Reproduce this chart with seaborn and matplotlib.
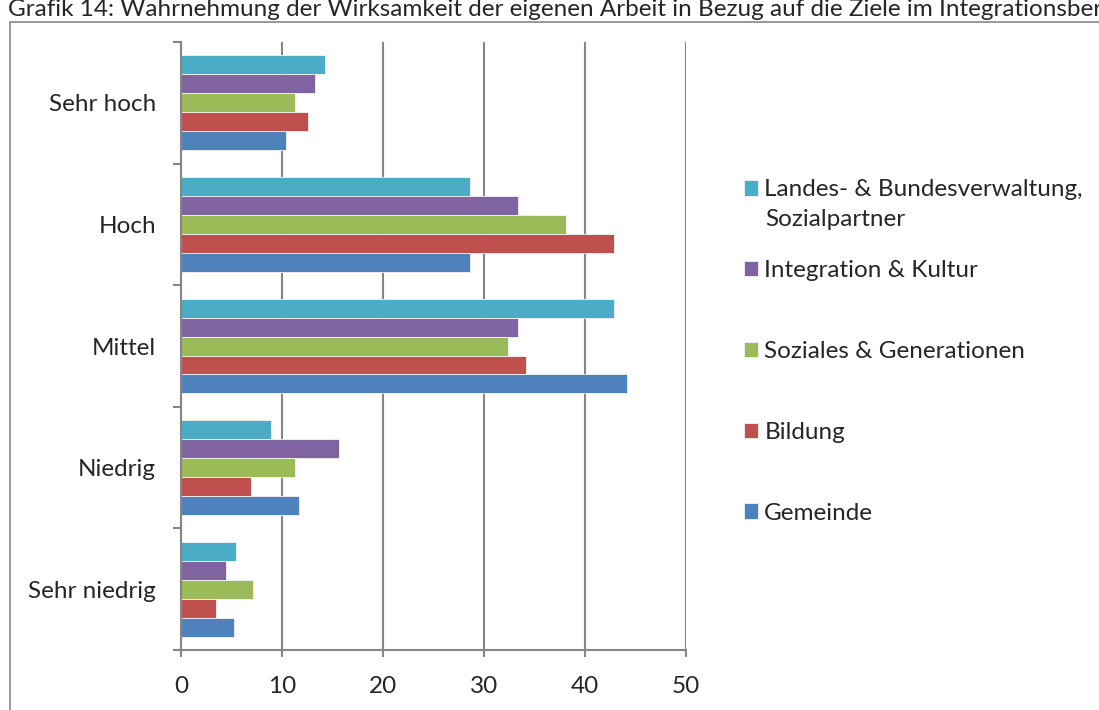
# plot.py
import pandas as pd
import seaborn as sns
import matplotlib.pyplot as plt
from matplotlib.patches import Rectangle
from matplotlib.ticker import FixedLocator

# data (percent)
levels = ['Sehr hoch', 'Hoch', 'Mittel', 'Niedrig', 'Sehr niedrig']
groups = ['Landes- & Bundesverwaltung,', 'Integration & Kultur',
          'Soziales & Generationen', 'Bildung', 'Gemeinde']
landes = [14.3, 28.6, 42.9, 8.9, 5.4]
integration = [13.3, 33.4, 33.4, 15.6, 4.5]
soziales = [11.3, 38.1, 32.4, 11.3, 7.1]
bildung = [12.6, 42.9, 34.2, 6.9, 3.5]
gemeinde = [10.4, 28.6, 44.2, 11.7, 5.2]
colors = ['#4BACC6', '#8064A2', '#9BBB59', '#C0504D', '#4F81BD']

rows = []
for g, vals in zip(groups, [landes, integration, soziales, bildung, gemeinde]):
    for lvl, v in zip(levels, vals):
        rows.append([lvl, g, v])
df = pd.DataFrame(rows, columns=['Stufe', 'Bereich', 'Wert'])

sns.set_style('white')
plt.rcParams['font.family'] = ['Lato', 'DejaVu Sans']
fs = 17.5

fig = plt.figure(figsize=(10.99, 7.10), dpi=100)
ax = fig.add_axes([0.1647, 0.0845, 0.4595, 0.8563])

sns.barplot(data=df, y='Stufe', x='Wert', hue='Bereich', order=levels,
            hue_order=groups, palette=colors, saturation=1, orient='h',
            width=0.78, edgecolor='#f4f4f4', linewidth=0.6, ax=ax)

grey = '#868686'
ax.set_xlim(0, 50)
ax.set_ylim(len(levels) - 0.5, -0.5)
ax.set_xticks([0, 10, 20, 30, 40, 50])
ax.xaxis.grid(True, color=grey, linewidth=1.5)
ax.set_axisbelow(True)
ax.set_xlabel('')
ax.set_ylabel('')
for side in ['top', 'right']:
    ax.spines[side].set_visible(False)
for side in ['left', 'bottom']:
    ax.spines[side].set_color(grey)
    ax.spines[side].set_linewidth(1.5)

ax.tick_params(axis='x', direction='out', length=5, width=1.5, color=grey,
               labelsize=fs, pad=14, bottom=True)
ax.tick_params(axis='y', which='major', length=0, labelsize=fs, pad=18)
ax.yaxis.set_minor_locator(FixedLocator([i - 0.5 for i in range(len(levels) + 1)]))
ax.tick_params(axis='y', which='minor', direction='out', length=6, width=1.5,
               color=grey, left=True)

handles, labels = ax.get_legend_handles_labels()
ax.legend(handles, labels, loc='upper left', bbox_to_anchor=(1.095, 0.79),
          frameon=False, fontsize=fs, handlelength=0.6, handleheight=0.6,
          handletextpad=0.25, labelspacing=2.46, borderaxespad=0)
# second line of the first legend label
fig.text(765 / 1099, 1 - 219 / 710, 'Sozialpartner', fontsize=fs,
         va='center', ha='left')

# outer chart frame and title line (cut off at the right as in the source)
fig.patches.append(Rectangle((10 / 1099, -0.01), 1.1, 1 - 22 / 710 + 0.01,
                             transform=fig.transFigure, fill=False,
                             edgecolor=grey, linewidth=1.2))
fig.text(8 / 1099, 1 - 9 / 710,
         'Grafik 14: Wahrnehmung der Wirksamkeit der eigenen Arbeit in Bezug auf die Ziele im Integrationsbereich',
         fontsize=fs, va='center', ha='left')

fig.savefig('out.png', dpi=100)
